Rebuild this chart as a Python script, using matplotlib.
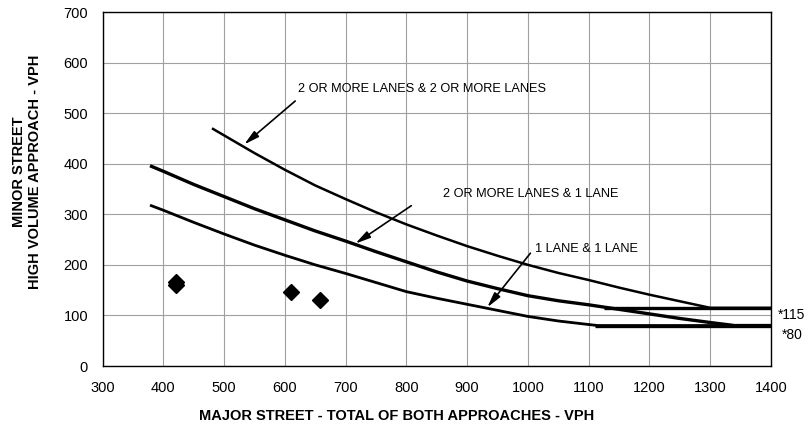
import matplotlib
matplotlib.use('Agg')
import matplotlib.pyplot as plt
import numpy as np

plt.rcParams['font.family'] = ['Liberation Sans', 'DejaVu Sans']

# curve 2 OR MORE LANES & 2 OR MORE LANES
top_x = [480, 500, 550, 600, 650, 700, 750, 800, 850, 900, 950, 1000, 1050,
         1100, 1150, 1200, 1250, 1300, 1400]
top_y = [470, 456, 421, 388, 357, 330, 304, 280, 258, 237, 218, 200, 184,
         170, 155, 141, 128, 115, 115]

# curve 2 OR MORE LANES & 1 LANE
mid_x = [378, 400, 450, 500, 550, 600, 650, 700, 750, 800, 850, 900, 950, 1000,
         1050, 1100, 1150, 1200, 1250, 1300, 1340, 1400]
mid_y = [396, 385, 359, 335, 311, 289, 267, 247, 226, 206, 186, 168, 153, 139,
         129, 121, 112, 103, 94, 86, 80, 80]

# curve 1 LANE & 1 LANE
low_x = [378, 400, 450, 500, 550, 600, 650, 700, 750, 800, 850, 900, 950, 1000,
         1050, 1100, 1115, 1400]
low_y = [318, 308, 284, 261, 239, 219, 200, 183, 165, 147, 134, 122, 110, 98,
         89, 82, 80, 80]

# minimum thresholds
flat115_x = [1125, 1400]
flat115_y = [115, 115]
flat80_x = [1110, 1400]
flat80_y = [80, 80]

# observed points
pts_x = [421, 421, 610, 658]
pts_y = [167, 161, 146, 130]

xticks = np.arange(300, 1401, 100)
yticks = np.arange(0, 701, 100)

fig = plt.figure(figsize=(8.11, 4.25), dpi=100)
ax = fig.add_axes([102.6/811, 1-366/425, (771-102.6)/811, (366-12)/425])

ax.plot(top_x, top_y, color='black', linewidth=1.8, solid_capstyle='butt')
ax.plot(mid_x, mid_y, color='black', linewidth=2.4, solid_capstyle='butt')
ax.plot(low_x, low_y, color='black', linewidth=2.0, solid_capstyle='butt')
ax.plot(flat115_x, flat115_y, color='black', linewidth=2.4, solid_capstyle='butt')
ax.plot(flat80_x, flat80_y, color='black', linewidth=2.4, solid_capstyle='butt')
ax.plot(pts_x, pts_y, linestyle='none', marker='D', markersize=8.5, color='black')

arrow = dict(arrowstyle='-|>,head_length=0.9,head_width=0.22', lw=1.2, color='black',
             shrinkA=0, shrinkB=0)
ax.annotate('', xy=(533, 438), xytext=(617, 524), arrowprops=arrow)
ax.annotate('', xy=(716, 242), xytext=(808, 317), arrowprops=arrow)
ax.annotate('', xy=(933, 116), xytext=(1004, 223), arrowprops=arrow)

ax.text(622, 547, '2 OR MORE LANES & 2 OR MORE LANES', fontsize=9.2, va='center', ha='left')
ax.text(861, 341, '2 OR MORE LANES & 1 LANE', fontsize=9.2, va='center', ha='left')
ax.text(1012, 231, '1 LANE & 1 LANE', fontsize=9.2, va='center', ha='left')

ax.text(1411, 101, '*115', fontsize=10, va='center', ha='left', clip_on=False)
ax.text(1417, 61, '*80', fontsize=10, va='center', ha='left', clip_on=False)

ax.set_xlim(300, 1400)
ax.set_ylim(0, 700)
ax.set_xticks(xticks)
ax.set_yticks(yticks)
ax.tick_params(length=0, pad=10.5, labelsize=10.5)
ax.grid(True, color='#a0a0a0', linewidth=0.8)
ax.set_axisbelow(True)
for s in ax.spines.values():
    s.set_color('black')
    s.set_linewidth(1.0)

fig.text(396.5/811, 1-420/425, 'MAJOR STREET - TOTAL OF BOTH APPROACHES - VPH',
         fontsize=10.5, fontweight='bold', ha='center', va='baseline')
fig.text(27/811, 1-172/425, 'MINOR STREET\nHIGH VOLUME APPROACH - VPH',
         fontsize=10.5, fontweight='bold', ha='center', va='center', rotation=90,
         multialignment='center')

plt.savefig('out.png', dpi=100)
